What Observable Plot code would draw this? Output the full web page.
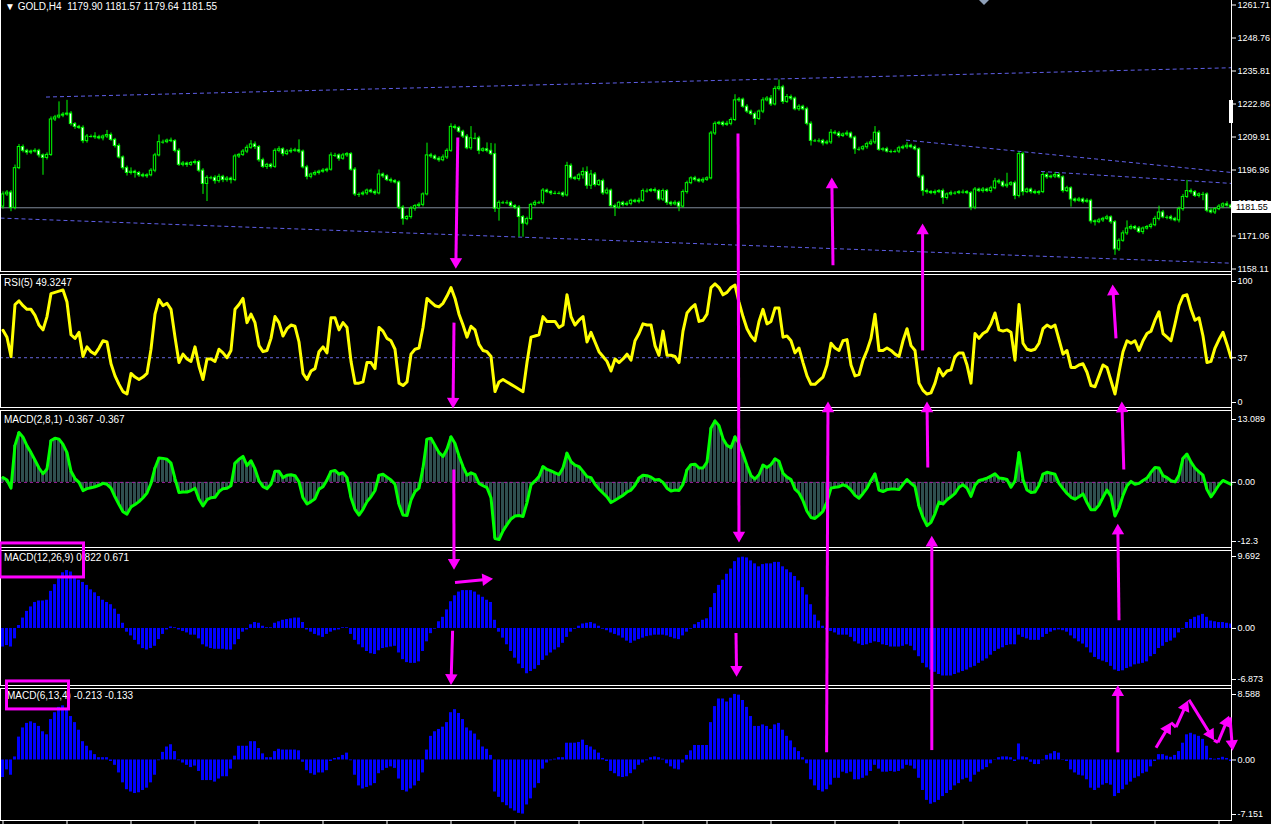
<!DOCTYPE html>
<html><head><meta charset="utf-8">
<script src="https://cdn.jsdelivr.net/npm/d3@7"></script>
<script src="https://cdn.jsdelivr.net/npm/@observablehq/plot@0.6"></script>
<style>
html,body{margin:0;padding:0;background:#000;}
#chart{position:relative;width:1271px;height:824px;background:#000;overflow:hidden;font-family:"Liberation Sans",Arial,sans-serif;}
.pane{position:absolute;left:0;}
.frame{position:absolute;left:0;width:1232px;border:1px solid #fff;box-sizing:border-box;pointer-events:none;}
.lbl{position:absolute;color:#fff;font-size:10px;line-height:12px;white-space:pre;}
</style></head><body><div id="chart"></div>
<script>
// ---------------- DATA (GOLD, H4) ----------------
const open0 = 1182.0;
const close = [
1186.8,1187.5,1181.5,1197.1,1205.4,1203.9,1203.2,1203.6,1203.9,1202.1,
1201.1,1202.3,1216.2,1217.0,1217.7,1218.1,1218.5,1214.4,1213.3,1212.9,
1207.7,1209.5,1209.5,1209.2,1208.8,1209.5,1210.1,1208.2,1205.8,1201.3,
1197.1,1195.2,1195.7,1195.2,1194.3,1193.9,1194.3,1196.1,1202.1,1207.3,
1207.3,1207.9,1207.7,1203.9,1198.4,1198.9,1198.4,1199.1,1199.5,1196.1,
1190.9,1193.3,1193.3,1192.0,1193.7,1192.4,1193.0,1192.4,1201.7,1202.3,
1203.6,1205.1,1206.4,1205.4,1200.2,1197.6,1198.4,1197.6,1203.9,1204.5,
1202.6,1203.6,1203.9,1204.1,1203.6,1197.4,1193.7,1194.6,1195.2,1195.7,
1196.1,1196.5,1202.1,1202.1,1200.8,1202.1,1202.6,1196.5,1186.8,1186.8,
1187.2,1188.3,1187.7,1187.2,1194.6,1193.9,1192.4,1192.0,1191.5,1181.6,
1177.1,1177.9,1181.2,1182.2,1182.7,1186.8,1202.1,1201.7,1200.8,1200.2,
1201.3,1203.9,1213.3,1212.9,1211.4,1209.5,1204.9,1208.8,1208.8,1203.9,
1204.5,1203.9,1202.6,1181.2,1183.5,1183.5,1183.5,1182.2,1181.6,1177.9,
1175.3,1177.1,1182.7,1183.5,1183.5,1188.3,1187.7,1187.2,1187.2,1187.2,
1186.4,1198.0,1193.3,1192.8,1194.3,1195.6,1190.2,1194.6,1190.5,1192.0,
1187.2,1188.3,1182.2,1181.6,1183.5,1182.7,1183.1,1184.3,1183.9,1184.3,
1188.1,1188.1,1188.5,1188.1,1184.8,1188.1,1183.5,1182.9,1183.5,1182.0,
1187.7,1191.2,1193.1,1192.5,1191.9,1192.5,1193.1,1210.7,1214.5,1214.9,
1214.1,1214.5,1216.0,1223.7,1224.0,1221.2,1219.3,1218.3,1216.4,1219.3,
1223.7,1224.4,1222.1,1228.2,1228.8,1223.1,1225.0,1224.4,1220.2,1221.2,
1220.2,1214.5,1207.8,1207.8,1207.8,1206.8,1207.2,1211.0,1210.7,1209.7,
1210.3,1210.7,1209.1,1204.5,1204.5,1205.3,1206.5,1207.2,1211.0,1204.3,
1204.5,1203.6,1203.6,1203.6,1204.9,1205.3,1205.9,1205.3,1204.5,1193.8,
1188.1,1187.7,1187.3,1187.7,1188.1,1185.4,1186.8,1187.3,1187.3,1187.7,
1187.7,1187.3,1181.6,1188.7,1188.1,1188.7,1188.1,1189.2,1191.9,1191.5,
1190.0,1190.6,1191.2,1186.2,1202.6,1187.7,1188.7,1187.7,1187.3,1187.7,
1194.4,1193.5,1193.8,1194.4,1193.5,1188.1,1189.2,1184.8,1184.3,1184.8,
1183.9,1184.3,1176.2,1175.9,1176.6,1177.2,1177.8,1175.9,1165.2,1168.6,
1171.5,1173.4,1174.0,1173.4,1172.0,1173.4,1174.0,1174.7,1177.2,1179.7,
1177.8,1177.8,1177.2,1176.6,1181.0,1185.8,1188.1,1187.7,1186.2,1186.8,
1186.8,1180.4,1179.7,1181.0,1182.0,1182.9,1182.4,1181.55];
const wickUp = [
1.0,0.8,0.8,1.2,1.0,0.8,0.6,0.6,0.8,0.6,
0.6,0.8,1.0,0.8,5.4,0.8,5.2,0.8,0.6,0.6,
0.8,0.8,0.6,1.5,0.8,0.6,1.8,0.8,0.6,0.8,
0.6,0.8,1.5,0.6,0.6,0.8,0.6,0.8,0.8,2.8,
0.8,0.6,1.0,0.6,0.8,0.8,0.6,0.6,0.8,0.6,
0.8,0.8,0.6,0.8,1.0,0.6,0.8,0.6,0.8,0.6,
0.8,1.0,1.5,1.0,0.6,0.8,0.6,0.6,0.8,1.0,
0.6,0.8,1.0,0.8,4.1,0.6,0.8,0.6,0.8,0.6,
0.8,0.6,1.0,0.8,0.6,0.8,0.6,0.6,0.8,0.6,
0.8,0.6,0.6,0.8,1.8,0.6,0.6,0.8,0.6,0.6,
0.8,0.6,0.8,0.6,0.8,0.6,4.8,0.8,0.6,0.8,
1.0,0.8,1.2,0.8,0.6,0.6,0.8,4.6,2.0,0.8,
0.6,2.5,2.9,4.0,0.8,0.6,0.8,0.6,0.6,0.8,
0.6,0.8,0.6,0.8,0.6,0.8,0.6,0.6,0.8,0.6,
0.6,1.4,0.8,0.6,0.8,1.6,2.0,1.6,0.8,0.6,
0.8,1.0,0.6,0.8,0.6,0.6,0.8,0.6,0.6,1.0,
0.8,0.8,0.6,0.8,0.6,0.8,0.6,0.6,0.8,0.6,
0.8,0.8,0.6,0.8,0.6,0.8,0.6,0.8,0.8,0.6,
0.6,1.0,0.8,2.2,0.8,0.6,0.8,0.6,0.8,0.6,
1.0,0.8,1.2,1.0,2.9,0.8,1.0,0.8,0.6,0.8,
0.6,0.8,0.8,0.6,0.8,0.6,0.8,1.2,0.8,0.8,
0.6,1.0,0.6,0.6,0.8,0.6,0.8,1.0,2.4,0.8,
0.6,0.8,0.6,0.6,0.8,0.8,1.2,0.6,0.8,0.6,
0.6,0.8,0.6,0.8,0.6,0.8,0.6,0.8,0.6,0.6,
0.8,0.6,0.6,0.8,0.6,0.8,0.6,0.8,1.2,0.8,
0.6,4.5,0.6,0.8,0.8,0.8,0.6,0.6,0.8,0.6,
1.0,0.8,0.6,1.0,0.8,0.6,0.8,0.6,0.6,0.8,
0.6,0.8,0.6,0.6,0.8,0.6,0.8,0.6,0.6,0.8,
1.0,3.0,0.8,0.6,0.8,0.6,0.6,0.8,1.0,2.5,
0.8,0.6,0.8,0.6,0.8,1.0,4.2,0.8,0.6,0.6,
0.8,0.6,0.8,0.6,0.8,0.6,1.0,0.5];
const wickDn = [
1.0,0.8,1.5,0.8,0.6,0.8,1.0,0.8,0.6,1.0,
6.8,0.8,0.6,0.8,0.6,0.8,0.6,0.8,1.0,0.6,
1.0,0.8,0.6,0.8,0.6,1.0,0.8,0.6,0.8,0.6,
0.8,1.2,0.8,2.0,0.8,0.6,0.8,0.6,0.8,0.6,
0.8,0.6,0.6,0.8,0.6,0.8,1.0,0.6,0.8,0.8,
4.1,6.9,0.8,1.2,0.8,1.0,0.8,1.5,0.6,0.8,
0.6,0.8,0.6,1.0,0.8,0.6,1.0,0.8,0.6,0.8,
1.0,0.6,0.8,0.6,0.8,0.6,1.2,0.8,0.6,0.8,
0.6,0.8,0.6,0.8,1.0,0.6,0.8,0.6,0.8,1.2,
0.6,0.8,0.6,0.8,0.6,0.8,0.6,0.8,0.6,0.8,
2.4,0.6,0.8,1.0,0.6,0.8,0.6,0.8,0.6,0.8,
0.6,0.8,0.6,0.8,0.6,0.8,0.6,0.8,0.6,1.5,
0.6,0.8,0.6,1.5,4.9,0.6,0.8,0.6,0.8,7.9,
5.3,0.8,0.6,0.8,0.6,0.8,0.6,0.8,0.6,0.6,
0.8,0.6,0.8,0.6,0.8,1.5,1.4,1.5,0.8,0.6,
0.8,0.6,0.8,3.5,0.6,0.8,0.6,0.8,0.6,0.8,
0.6,0.8,0.6,0.8,0.6,0.8,1.0,0.8,0.6,2.0,
0.6,0.8,0.6,0.8,0.6,0.8,0.6,0.6,0.8,0.6,
0.8,0.6,0.8,0.6,0.8,0.6,0.8,0.6,2.5,0.6,
0.8,0.6,0.8,0.6,0.8,1.0,0.6,0.8,0.6,0.8,
0.6,0.8,2.0,0.6,0.8,1.0,0.6,0.8,0.6,0.8,
0.6,0.8,0.6,2.0,0.8,0.6,0.8,0.6,0.8,0.6,
0.8,0.6,0.8,0.6,0.8,0.6,0.8,0.6,0.6,0.8,
2.0,0.8,0.6,0.8,0.6,2.5,0.8,0.6,0.8,0.6,
0.8,0.6,1.2,0.8,0.6,0.8,0.6,0.8,0.6,0.8,
0.6,0.8,0.6,1.5,0.8,1.5,0.6,0.8,0.6,0.8,
0.6,0.8,0.6,0.8,0.6,0.8,0.6,3.0,0.8,0.6,
0.8,0.6,1.0,1.5,0.6,0.8,0.6,0.8,2.3,0.8,
0.6,0.8,0.6,0.8,0.6,1.0,0.6,0.8,0.6,0.8,
0.6,1.0,0.8,0.6,1.0,0.8,0.6,0.8,0.6,0.8,
2.5,0.8,0.6,0.8,0.6,0.8,0.6,0.5];
const rsi5 = [
59.7,53.9,38,81,84,80,77,77,72,64,
60,71,90,91,92,93,83,56,53,58,
38,46,42,40,45,51,50,32,22,15,
9,7,24,21,19,21,24,44,73,85,
80,82,77,54,33,40,36,34,46,30,
19,36,36,34,44,41,37,43,77,81,
86,66,73,66,47,42,43,53,71,66,
55,61,64,63,50,24,19,26,28,42,
46,41,70,70,60,66,62,34,16,16,
17,33,33,28,62,59,53,51,44,16,
14,17,40,44,45,62,86,83,80,79,
82,88,95,86,73,64,54,63,60,48,
43,42,38,9,17,19,17,15,13,11,
9,33,54,55,56,71,67,67,67,62,
64,89,71,64,68,71,50,58,50,42,
38,34,26,36,33,36,40,35,51,57,
65,64,64,47,39,59,39,39,38,33,
59,74,78,81,67,68,73,95,98,95,
89,91,95,97,83,71,61,55,51,67,
77,65,67,78,78,54,55,51,41,45,
33,22,15,15,18,21,31,49,45,43,
51,52,31,22,23,35,43,53,73,43,
43,45,43,40,38,51,61,47,43,16,
10,7,8,16,28,22,26,27,38,41,
41,31,16,57,53,57,59,65,74,60,
59,60,58,35,81,49,44,43,44,49,
61,64,62,64,52,40,43,29,29,31,
32,25,14,13,22,31,29,18,7,25,
42,51,49,51,43,51,57,59,68,75,
57,54,51,65,80,88,89,77,68,70,
55,33,34,45,52,58,48,37];
const macd281 = [
1.0,0.5,-1.2,7.7,10.4,9.4,7.6,6.2,4.6,3.0,
1.8,2.8,8.7,9.2,9.0,7.9,6.2,2.3,0.8,0,
-1.7,-1.3,-1.1,-0.9,-0.6,-0.2,-0.4,-1.2,-3.0,-4.6,
-6.1,-6.6,-5.1,-4.6,-4.0,-3.2,-2.2,-0.2,3.0,5.1,
5.0,4.8,4.0,0.8,-2.1,-2.0,-2.0,-1.7,-1.2,-3.5,
-4.9,-3.6,-3.2,-3.1,-1.9,-1.3,-1.2,-0.7,4.0,4.8,
5.4,3.5,4.5,2.8,0.3,-0.9,-1.3,-0.4,2.3,2.3,
1.0,1.5,1.6,1.4,0.1,-3.2,-4.5,-4.0,-3.4,-1.4,
-0.9,0.5,2.3,2.5,1.7,2.0,1.0,-3.2,-5.6,-6.8,
-5.6,-4.0,-3.0,-1.7,1.5,1.7,1.1,0.5,-0.4,-4.6,
-6.8,-6.9,-3.7,-1.9,-1.2,3.0,9.0,9.2,7.7,6.2,
5.4,6.9,9.5,8.1,5.5,3.3,1.5,2.0,1.6,-0.2,
-0.7,-1.1,-3.2,-11.7,-11.9,-10.1,-8.8,-7.6,-7.0,-6.9,
-7.1,-4.2,-0.5,0.3,1.2,3.3,2.7,2.4,2.0,1.6,
3.0,6.1,4.3,3.6,3.3,2.3,1.2,1.0,-0.4,-1.4,
-2.2,-3.0,-4.2,-3.7,-3.2,-2.7,-2.0,-1.6,-0.6,0.9,
1.5,1.4,1.1,0.5,0.6,0,-1.2,-1.8,-1.6,-1.7,
-0.4,2.6,3.7,3.8,3.0,3.0,4.2,11.3,12.8,11.8,
9.1,7.7,7.2,9.5,8.1,5.9,3.5,1.4,0.7,1.6,
3.6,3.1,3.7,4.9,4.4,1.9,1.1,0.6,-1.4,-2.2,
-3.8,-6.0,-7.3,-7.5,-6.8,-6.0,-4.0,-1.2,-1.0,-0.9,
-0.5,-0.8,-1.6,-2.7,-3.3,-2.3,-1.2,0.4,1.8,-1.6,
-1.9,-1.5,-1.4,-1.4,-1.5,-0.4,0.6,-0.2,-0.9,-5.0,
-7.3,-9.0,-8.3,-6.5,-4.1,-4.5,-3.6,-3.0,-2.3,-1.0,
-0.5,-1.2,-2.9,-0.6,0.4,0.6,0.9,1.3,1.8,0.9,
0.8,0.6,-1.0,0.3,6.2,0.6,-1.6,-2.1,-2.0,-0.6,
1.7,2.1,1.9,1.7,-0.2,-1.3,-2.3,-3.1,-3.5,-3.0,
-2.4,-4.2,-5.7,-5.7,-4.7,-3.1,-1.6,-2.9,-7.0,-5.3,
-2.7,-0.7,0.2,-0.4,-0.2,0.4,0.9,2.1,3.1,3.0,
1.4,1.0,0.35,0.1,1.5,5.0,5.9,4.2,3.0,2.2,
1.5,-1.5,-3.0,-1.8,-0.5,0.4,0.0,-0.4];
const macd12269 = [
-2.5,-2.3,-2.5,-1.4,0.4,1.4,2.3,2.9,3.5,3.7,
3.7,3.8,5.0,5.9,6.7,7.5,7.8,7.6,6.8,6.5,
6.2,5.8,5.2,4.8,4.3,3.8,3.5,3.2,2.6,1.9,
0.7,-0.5,-1.0,-1.6,-2.2,-2.7,-2.9,-2.7,-2.4,-1.5,
-0.8,-0.2,0.2,0.1,-0.2,-0.4,-0.6,-0.9,-0.9,-1.4,
-2.2,-2.5,-2.7,-2.8,-2.8,-2.8,-2.9,-2.9,-2.2,-1.5,
-0.5,-0.2,0.5,0.8,0.7,0.3,0.1,0.1,0.7,0.9,
1.1,1.2,1.3,1.4,1.4,0.8,-0.2,-0.5,-0.8,-1.0,
-1.2,-0.8,-0.5,-0.3,-0.2,0.1,0.1,-0.8,-1.6,-2.2,
-2.6,-3.1,-3.4,-3.5,-3.0,-2.7,-2.6,-2.5,-2.4,-3.3,
-4.2,-4.6,-4.7,-4.7,-4.5,-3.1,-1.8,-0.7,-0.1,0.9,
1.5,2.5,3.6,4.4,4.9,5.1,5.1,5.1,4.9,4.5,
4.2,3.8,3.5,1.1,-0.5,-1.3,-2.2,-3.1,-4.0,-4.8,
-5.4,-6.1,-5.8,-5.5,-5.0,-4.3,-3.7,-3.3,-2.9,-2.6,
-2.0,-1.2,-0.5,-0.1,0.3,0.6,0.7,0.8,0.6,0.3,
-0.1,-0.3,-0.6,-0.8,-1.0,-1.3,-1.7,-2.0,-1.7,-1.5,
-1.3,-1.1,-1.0,-0.9,-0.9,-0.9,-1.0,-1.2,-1.4,-1.5,
-1.0,-0.5,-0.1,0.5,0.8,1.1,1.3,2.8,4.7,5.8,
6.5,7.3,8.0,9.0,9.5,9.6,9.5,9.1,8.7,8.3,
8.6,8.7,8.7,8.9,8.9,8.3,7.9,7.5,7.0,6.4,
5.5,4.5,3.2,1.8,1.0,0.3,-0.2,-0.4,-0.6,-0.9,
-0.9,-0.9,-1.2,-1.8,-2.1,-2.3,-2.2,-2.0,-1.8,-1.9,
-2.2,-2.3,-2.5,-2.5,-2.5,-2.4,-2.2,-2.4,-3.0,-3.8,
-4.7,-5.3,-5.6,-5.9,-6.2,-6.4,-6.4,-6.4,-6.2,-6.0,
-5.8,-5.6,-5.3,-5.1,-4.7,-4.4,-4.1,-3.6,-3.1,-2.8,
-2.6,-2.3,-2.2,-2.2,-0.9,-1.2,-1.4,-1.6,-1.6,-1.6,
-1.2,-0.8,-0.5,-0.3,-0.2,-0.3,-0.5,-1.0,-1.4,-1.8,
-2.1,-2.6,-3.3,-3.9,-4.2,-4.4,-4.6,-5.1,-5.6,-5.8,
-5.7,-5.4,-5.2,-4.9,-4.8,-4.7,-4.5,-3.8,-3.5,-2.7,
-2.4,-1.9,-1.7,-1.3,-0.6,-0.1,0.8,1.2,1.5,1.7,
1.9,1.5,1.0,0.9,0.8,0.8,0.7,0.6];
const macd6134 = [
-2.3,-1.3,-2.0,0.4,3.0,4.2,4.8,5.0,4.8,4.4,
3.7,3.3,5.3,6.2,6.9,7.1,6.6,5.7,4.9,3.9,
2.4,1.8,1.2,0.7,0.3,0.3,0.3,-0.2,-0.7,-1.7,
-3.0,-3.9,-4.2,-4.4,-4.3,-4.0,-3.7,-3.0,-2.0,-0.1,
1.0,1.7,2.0,1.1,-0.1,-0.4,-0.7,-1.0,-0.8,-1.5,
-2.7,-2.7,-2.7,-2.9,-2.5,-2.2,-2.2,-1.2,0.5,1.8,
1.8,1.8,2.4,2.4,1.5,0.8,0.3,0.3,1.1,1.4,
1.3,1.3,1.3,1.3,1.2,-0.3,-1.4,-1.8,-2.0,-1.7,
-1.7,-1.4,-0.2,0.2,0.3,0.6,0.9,-0.1,-2.0,-3.4,
-3.8,-3.6,-3.4,-3.1,-1.8,-1.4,-1.1,-0.9,-1.1,-2.5,
-4.0,-4.2,-3.8,-3.4,-2.8,-1.7,1.3,3.1,3.7,4.0,
4.3,4.9,6.2,6.6,6.1,5.3,4.2,3.8,3.4,2.6,
1.7,1.4,0.6,-4.2,-4.9,-5.6,-6.0,-6.4,-6.7,-7.0,
-7.1,-5.9,-5.1,-3.7,-3.1,-1.2,-0.4,-0.1,0.1,0.3,
0.3,2.2,2.2,2.2,2.3,2.6,1.9,1.7,1.3,0.9,
0.2,-0.2,-1.5,-1.8,-2.2,-2.3,-2.2,-1.8,-1.3,-0.7,
-0.4,-0.1,0.3,0.4,0.3,0.1,-0.5,-0.9,-1.2,-1.3,
-0.4,0.6,1.2,1.9,1.9,1.9,1.9,4.9,7.0,8.0,
8.0,7.6,8.1,8.6,8.5,7.8,6.9,5.7,4.4,4.4,
4.6,4.4,4.0,4.6,4.8,3.9,3.1,2.5,1.6,1.1,
0.3,-0.5,-2.6,-3.4,-4.0,-4.2,-3.9,-3.3,-2.4,-2.4,
-1.6,-1.8,-1.6,-2.6,-2.6,-2.4,-2.1,-1.5,-0.7,-1.2,
-1.6,-1.6,-1.5,-1.6,-1.5,-1.2,-0.7,-0.8,-1.2,-2.4,
-4.0,-5.3,-5.8,-5.6,-5.3,-4.8,-4.4,-4.0,-3.4,-3.1,
-2.6,-2.4,-2.9,-2.0,-1.6,-1.3,-1.0,-0.5,0.05,0.3,
0.4,0.4,0.3,-0.2,2.1,0.4,0.3,-0.3,-0.6,-0.6,
-0.1,0.6,0.8,1.1,0.9,-0.05,-0.2,-1.3,-1.7,-2.0,
-2.1,-2.6,-3.7,-4.0,-3.7,-3.3,-3.1,-3.3,-4.8,-4.4,
-3.9,-3.3,-2.9,-2.4,-2.2,-1.8,-1.6,-0.9,-0.2,0.7,
0.7,0.5,0.35,0.6,1.1,2.2,3.3,3.5,3.3,3.1,
2.7,1.8,0.2,0.1,0.2,0.35,0.2,-0.2];

// axis ticks and labels
const priceTicks = [1261.71,1248.76,1235.81,1222.86,1209.91,1196.96,1184.01,1171.06,1158.11];
const rsiTicks = [100,37,0];
const m1Ticks = [13.089,0,-12.3], m1Labels = ["13.089","0.00","-12.3"];
const m2Ticks = [9.692,0,-6.873], m2Labels = ["9.692","0.00","-6.873"];
const m3Ticks = [8.588,0,-7.151], m3Labels = ["8.588","0.00","-7.151"];
const rsiLevel = 37;

// dashed trend lines on price (bar index, price)
const trendFromK = [10.75,-0.625,225.75,259.5];
const trendFromP = [1225.0,1177.5,1208.1,1195.8];
const trendToK   = [307.125,307.125,307.125,307.125];
const trendToP   = [1236.5,1159.8,1195.4,1191.1];

// magenta annotation arrows: [pane, bar, value] -> [pane, bar, value]
const arrowDefs = [
 ["price",113.7,1209.1,"price",113.2,1157.6],
 ["rsi",112.75,66,"rsi",112.5,-5],
 ["m1",112.7,2.7,"m2",112.75,7.9],
 ["m2",113,6.2,"m2",122.5,6.7],
 ["m2",112.4,-0.3,"m2",112,-7.6],
 ["price",183.75,1210.7,"m1",184,-12.5],
 ["m2",183.25,-0.6,"m2",183.4,-6.5],
 ["price",207.5,1159,"price",207.2,1193.4],
 ["m3",205.9,1.0,"rsi",206.25,0.8],
 ["rsi",229.9,43,"price",229.9,1175.4],
 ["m1",231.2,3.1,"rsi",231,0.8],
 ["m3",232.2,1.3,"m1",232.2,-11.1],
 ["rsi",278.25,53,"rsi",277.4,97.5],
 ["m1",280.2,2.7,"rsi",279.7,0.8],
 ["m2",279,1.1,"m1",278.7,-8.6],
 ["m3",278.7,1.0,"m3",278.7,9.8],
 ["m3",288.25,1.6,"m3",292,4.9],
 ["m3",293.25,4.3,"m3",296.25,7.8],
 ["m3",296.5,7.9,"m3",302.75,2.6],
 ["m3",303.75,2.3,"m3",306.5,5.8],
 ["m3",306.75,5.6,"m3",307.4,1.2]
];
const connectorDefs = [
 ["m3",292,4.9,"m3",293.25,4.3],
 ["m3",302.75,2.6,"m3",303.75,2.3]
];
// magenta boxes around indicator names: [pane, barFrom, barTo, vFrom, vTo]
const boxDefs = [
 ["m2",-0.625,20.25,6.87,11.45],
 ["m3",1,16.5,6.63,10.3]
];
const timeTicks = d3.range(0, close.length, 16);

// ---------------- BUILD ----------------
const chart = document.getElementById("chart");
const W = 1271, MR = 40;
const xDomain = [-0.625, 307.125];
const FONT = "'Liberation Sans', Arial, sans-serif";
const baseStyle = {background:"transparent", color:"#fff", fontFamily:FONT, fontSize:"9px", overflow:"visible"};
const panes = {};

function rightAxis(vals, labels, dy){
  const m = new Map(vals.map((v,i)=>[v, labels ? labels[i] : String(v)]));
  return Plot.axisY(vals, {anchor:"right", tickSize:4, tickPadding:2, tickFormat:d=>m.get(d), label:null, fontSize:9, dy:dy||0});
}
function pane(key, top, height, mt, mb, domain, marks){
  const p = Plot.plot({width:W, height, marginLeft:0, marginRight:MR, marginTop:mt, marginBottom:mb,
    x:{domain:xDomain, axis:null}, y:{domain, axis:null}, style:baseStyle, marks});
  const d = document.createElement("div"); d.className="pane"; d.style.top = top+"px";
  d.appendChild(p); chart.appendChild(d);
  panes[key] = {top, plot:p};
}

// candles
const candles = close.map((c,i)=>{
  const o = i===0 ? open0 : close[i-1];
  return {i, o, c, h:Math.max(o,c)+wickUp[i], l:Math.min(o,c)-wickDn[i], bull:c>=o, doji:Math.abs(c-o)<0.05};
});
const trends = trendFromK.map((k,i)=>({k1:k,p1:trendFromP[i],k2:trendToK[i],p2:trendToP[i]}));
const lastPrice = close[close.length-1];

pane("price", 0, 272, 3, 5, [1158.11,1261.71], [
  Plot.ruleY([lastPrice], {stroke:"#7f8a9a", strokeWidth:1}),
  Plot.link(trends, {x1:"k1", y1:"p1", x2:"k2", y2:"p2", stroke:"#5f5fe8", strokeDasharray:"4,3", strokeWidth:1}),
  Plot.ruleX(candles, {x:"i", y1:"l", y2:"h", stroke:"#00ff00", strokeWidth:1}),
  Plot.rect(candles.filter(d=>d.bull && !d.doji), {x1:d=>d.i-0.3, x2:d=>d.i+0.3, y1:"o", y2:"c", fill:"#000", stroke:"#00ff00", strokeWidth:1}),
  Plot.rect(candles.filter(d=>!d.bull && !d.doji), {x1:d=>d.i-0.3, x2:d=>d.i+0.3, y1:"o", y2:"c", fill:"#fff", stroke:"#00ff00", strokeWidth:1}),
  Plot.ruleY(candles.filter(d=>d.doji), {y:"c", x1:d=>d.i-0.4, x2:d=>d.i+0.4, stroke:"#00ff00", strokeWidth:1}),
  rightAxis(priceTicks, priceTicks.map(v=>v.toFixed(2)), 1.5)
]);

const rsiData = rsi5.map((v,i)=>({i,v}));
pane("rsi", 274, 134, 7, 6, [0,100], [
  Plot.ruleY([rsiLevel], {stroke:"#6666dd", strokeDasharray:"3,3", strokeWidth:1}),
  Plot.line(rsiData, {x:"i", y:"v", stroke:"#ffff00", strokeWidth:3, strokeLinejoin:"round"}),
  rightAxis(rsiTicks)
]);

const m1Data = macd281.map((v,i)=>({i,v}));
pane("m1", 410, 138, 9, 7, [-12.3,13.089], [
  Plot.rect(m1Data, {x1:d=>d.i-0.375, x2:d=>d.i+0.375, y1:()=>0, y2:"v", fill:"#2f4f4f"}),
  Plot.ruleY([0], {stroke:"#a0209f", strokeDasharray:"3,3", strokeWidth:1}),
  Plot.line(m1Data, {x:"i", y:"v", stroke:"#00ff00", strokeWidth:3, strokeLinejoin:"round"}),
  rightAxis(m1Ticks, m1Labels)
]);

const m2Data = macd12269.map((v,i)=>({i,v}));
pane("m2", 550, 136, 6, 7, [-6.873,9.692], [
  Plot.rect(m2Data, {x1:d=>d.i-0.375, x2:d=>d.i+0.375, y1:()=>0, y2:"v", fill:"#0000ff"}),
  rightAxis(m2Ticks, m2Labels)
]);

const m3Data = macd6134.map((v,i)=>({i,v}));
pane("m3", 688, 136, 6, 10, [-7.151,8.588], [
  Plot.rect(m3Data, {x1:d=>d.i-0.375, x2:d=>d.i+0.375, y1:()=>0, y2:"v", fill:"#0000ff"}),
  rightAxis(m3Ticks, m3Labels)
]);

// bottom time-axis ticks (4px marks below the last window)
{
  const p = Plot.plot({width:W, height:4, marginLeft:0, marginRight:MR, marginTop:0, marginBottom:0,
    x:{domain:xDomain, axis:null}, style:baseStyle,
    marks:[Plot.ruleX(timeTicks, {stroke:"#fff", strokeWidth:1})]});
  const d = document.createElement("div"); d.className="pane"; d.style.top="820px"; d.appendChild(p); chart.appendChild(d);
}

// frames (MT4 sub-window borders)
[[0,272,true],[274,134],[410,138],[550,136],[688,133]].forEach(([t,h,noTop])=>{
  const f = document.createElement("div"); f.className="frame";
  f.style.top=t+"px"; f.style.height=h+"px"; if(noTop) f.style.borderTop="none";
  chart.appendChild(f);
});
const axisLine = document.createElement("div");
axisLine.style.cssText="position:absolute;left:1231px;top:0;width:1px;height:821px;background:#fff;";
chart.appendChild(axisLine);

// helpers to map data -> absolute pixels
const X = k => panes.price.plot.scale("x").apply(k);
const Y = (key,v) => panes[key].top + panes[key].plot.scale("y").apply(v);

// current price box on axis
{
  const yy = Y("price", lastPrice);
  const b = document.createElement("div");
  b.style.cssText=`position:absolute;left:1232px;top:${Math.round(yy-6)}px;width:39px;height:12px;background:#fff;color:#000;font-size:9px;line-height:12px;padding-left:4px;box-sizing:border-box;font-family:${FONT}`;
  b.textContent = lastPrice.toFixed(2);
  chart.appendChild(b);
  const mk = document.createElement("div");
  const y1 = Y("price",1223.6), y2 = Y("price",1214.6);
  mk.style.cssText=`position:absolute;left:1229px;top:${y1}px;width:4px;height:${y2-y1}px;background:#fff;`;
  chart.appendChild(mk);
  const tri = document.createElement("div");
  tri.style.cssText="position:absolute;left:979px;top:0;width:0;height:0;border-left:5px solid transparent;border-right:5px solid transparent;border-top:5px solid #8fa0b8;";
  chart.appendChild(tri);
}

// indicator titles
const titles = [
  [5,1,"\u25BC GOLD,H4  1179.90 1181.57 1179.64 1181.55"],
  [4,277,"RSI(5) 49.3247"],
  [4,414,"MACD(2,8,1) -0.367 -0.367"],
  [4,552,"MACD(12,26,9) 0.822 0.671"],
  [7,690,"MACD(6,13,4) -0.213 -0.133"]
];
titles.forEach(([l,t,s])=>{const d=document.createElement("div");d.className="lbl";d.style.left=l+"px";d.style.top=t+"px";d.textContent=s;chart.appendChild(d);});

// overlay with magenta annotations (shaft + filled triangular head)
const HEAD = 4.6;                // triangle symbol radius
const TIP = 1.55 * HEAD;         // centroid-to-tip distance of the triangle symbol
function seg(a){
  const x1=X(a[1]), y1=Y(a[0],a[2]), x2=X(a[4]), y2=Y(a[3],a[5]);
  const L=Math.hypot(x2-x1,y2-y1), ux=(x2-x1)/L, uy=(y2-y1)/L;
  return {x1,y1,x2,y2, cx:x2-ux*TIP, cy:y2-uy*TIP, ang:Math.atan2(ux,-uy)*180/Math.PI};
}
const arrows = arrowDefs.map(seg);
const connectors = connectorDefs.map(seg);
const boxes = boxDefs.map(b=>({x1:X(b[1]),x2:X(b[2]),y1:Y(b[0],b[3]),y2:Y(b[0],b[4])}));
{
  const ov = Plot.plot({width:W, height:824, margin:0,
    x:{type:"identity", axis:null}, y:{type:"identity", axis:null}, style:baseStyle,
    marks:[
      Plot.rect(boxes, {x1:"x1", x2:"x2", y1:"y1", y2:"y2", fill:"none", stroke:"#ff00ff", strokeWidth:3}),
      Plot.link(connectors, {x1:"x1", y1:"y1", x2:"x2", y2:"y2", stroke:"#ff00ff", strokeWidth:3}),
      Plot.link(arrows, {x1:"x1", y1:"y1", x2:"cx", y2:"cy", stroke:"#ff00ff", strokeWidth:3}),
      Plot.dot(arrows, {x:"cx", y:"cy", symbol:"triangle", r:HEAD, rotate:"ang", fill:"#ff00ff", stroke:"none"})
    ]});
  const d = document.createElement("div"); d.className="pane"; d.style.top="0px"; d.style.pointerEvents="none"; d.appendChild(ov); chart.appendChild(d);
}
</script></body></html>
